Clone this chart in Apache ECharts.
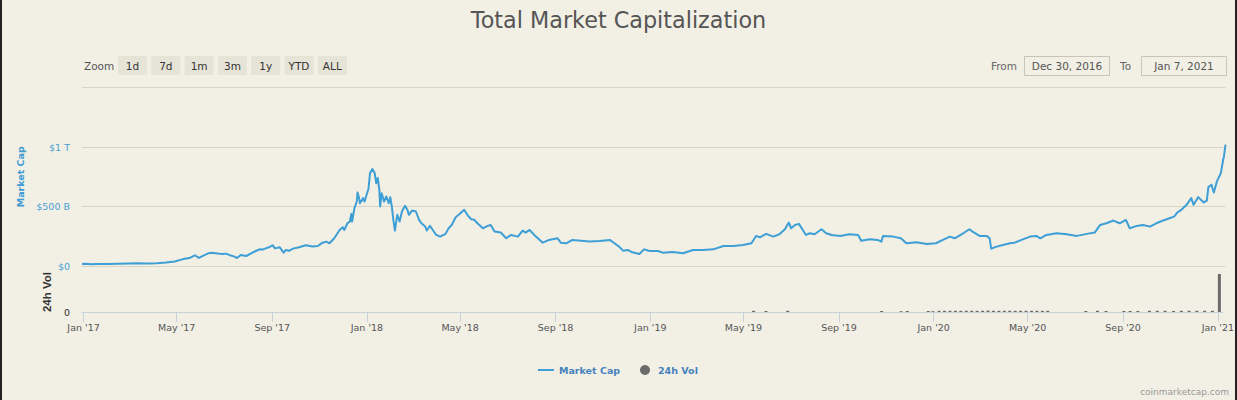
<!DOCTYPE html>
<html>
<head>
<meta charset="utf-8">
<title>Total Market Capitalization</title>
<script src="https://cdn.jsdelivr.net/npm/echarts@6/dist/echarts.min.js"></script>
<style>
    html, body { margin: 0; padding: 0; background: #f2efe5; }
    #chart { width: 1237px; height: 400px; }
</style>
</head>
<body>
<div id="chart"></div>
<script>
// Market cap (billions USD)
const capDates = [
    '2016-12-30', '2017-01-04', '2017-01-11', '2017-01-20', '2017-02-01', '2017-02-15', '2017-03-01', '2017-03-10',
    '2017-03-25', '2017-04-05', '2017-04-17', '2017-04-28', '2017-05-09', '2017-05-17', '2017-05-24', '2017-05-26',
    '2017-05-29', '2017-06-06', '2017-06-11', '2017-06-14', '2017-06-20', '2017-06-25', '2017-06-29', '2017-07-03',
    '2017-07-07', '2017-07-14', '2017-07-17', '2017-07-22', '2017-07-29', '2017-08-06', '2017-08-11', '2017-08-15',
    '2017-08-19', '2017-08-23', '2017-08-28', '2017-09-01', '2017-09-04', '2017-09-10', '2017-09-15', '2017-09-18',
    '2017-09-22', '2017-09-27', '2017-10-05', '2017-10-10', '2017-10-14', '2017-10-22', '2017-10-29', '2017-11-04',
    '2017-11-09', '2017-11-13', '2017-11-19', '2017-11-26', '2017-11-30', '2017-12-02', '2017-12-06', '2017-12-09',
    '2017-12-11', '2017-12-12', '2017-12-15', '2017-12-18', '2017-12-19', '2017-12-21', '2017-12-22', '2017-12-26',
    '2017-12-28', '2017-12-31', '2018-01-02', '2018-01-04', '2018-01-07', '2018-01-10', '2018-01-12', '2018-01-14',
    '2018-01-16', '2018-01-17', '2018-01-19', '2018-01-22', '2018-01-25', '2018-01-28', '2018-01-30', '2018-02-01',
    '2018-02-03', '2018-02-05', '2018-02-08', '2018-02-11', '2018-02-14', '2018-02-18', '2018-02-21', '2018-02-23',
    '2018-02-27', '2018-03-04', '2018-03-08', '2018-03-11', '2018-03-16', '2018-03-18', '2018-03-22', '2018-03-25',
    '2018-03-30', '2018-04-04', '2018-04-11', '2018-04-15', '2018-04-19', '2018-04-24', '2018-04-28', '2018-05-05',
    '2018-05-09', '2018-05-14', '2018-05-18', '2018-05-22', '2018-05-29', '2018-06-04', '2018-06-08', '2018-06-13',
    '2018-06-21', '2018-06-28', '2018-07-04', '2018-07-13', '2018-07-19', '2018-07-23', '2018-07-28', '2018-08-03',
    '2018-08-14', '2018-08-22', '2018-09-02', '2018-09-06', '2018-09-13', '2018-09-21', '2018-10-02', '2018-10-13',
    '2018-10-26', '2018-11-08', '2018-11-14', '2018-11-20', '2018-11-25', '2018-12-01', '2018-12-07', '2018-12-16',
    '2018-12-22', '2018-12-29', '2019-01-09', '2019-01-15', '2019-01-28', '2019-02-10', '2019-02-23', '2019-03-08',
    '2019-03-21', '2019-04-03', '2019-04-16', '2019-04-28', '2019-05-09', '2019-05-15', '2019-05-20', '2019-05-28',
    '2019-06-06', '2019-06-14', '2019-06-21', '2019-06-26', '2019-06-29', '2019-07-04', '2019-07-09', '2019-07-14',
    '2019-07-18', '2019-07-23', '2019-07-29', '2019-08-07', '2019-08-13', '2019-08-20', '2019-08-31', '2019-09-12',
    '2019-09-23', '2019-09-27', '2019-10-08', '2019-10-18', '2019-10-23', '2019-10-25', '2019-11-07', '2019-11-17',
    '2019-11-24', '2019-12-07', '2019-12-20', '2020-01-01', '2020-01-10', '2020-01-19', '2020-01-25', '2020-02-05',
    '2020-02-13', '2020-02-17', '2020-02-26', '2020-03-06', '2020-03-10', '2020-03-12', '2020-03-19', '2020-03-27',
    '2020-04-05', '2020-04-11', '2020-04-20', '2020-05-01', '2020-05-09', '2020-05-14', '2020-05-22', '2020-06-04',
    '2020-06-17', '2020-06-30', '2020-07-13', '2020-07-23', '2020-07-30', '2020-08-07', '2020-08-16', '2020-08-24',
    '2020-09-01', '2020-09-06', '2020-09-15', '2020-09-23', '2020-10-02', '2020-10-10', '2020-10-19', '2020-10-27',
    '2020-11-02', '2020-11-06', '2020-11-11', '2020-11-18', '2020-11-24', '2020-11-27', '2020-12-03', '2020-12-10',
    '2020-12-14', '2020-12-16', '2020-12-20', '2020-12-23', '2020-12-27', '2021-01-01', '2021-01-04', '2021-01-05',
    '2021-01-07'
];
const capValues = [
    17, 19, 15, 16, 17, 18, 21, 23,
    22, 24, 29, 38, 58, 67, 90, 82,
    68, 93, 108, 112, 107, 102, 101, 104,
    93, 79, 67, 93, 84, 112, 128, 140,
    138, 148, 160, 174, 148, 157, 112, 135,
    128, 146, 157, 168, 174, 163, 168, 196,
    205, 191, 233, 303, 326, 303, 359, 373,
    438, 373, 486, 542, 618, 570, 528, 570,
    542, 607, 647, 781, 814, 781, 696, 739,
    640, 500, 612, 542, 584, 528, 578, 500,
    388, 298, 430, 374, 458, 506, 472, 430,
    466, 458, 388, 359, 331, 298, 337, 309,
    261, 247, 270, 317, 345, 410, 430, 472,
    430, 393, 388, 359, 317, 337, 345, 289,
    281, 233, 261, 247, 298, 281, 303, 261,
    196, 219, 233, 196, 191, 219, 213, 205,
    210, 219, 191, 163, 129, 135, 115, 101,
    140, 126, 126, 112, 118, 107, 135, 135,
    140, 168, 168, 177, 191, 252, 241, 270,
    247, 267, 309, 365, 317, 345, 354, 303,
    261, 275, 267, 309, 275, 261, 252, 267,
    261, 213, 225, 219, 205, 253, 247, 233,
    191, 199, 185, 191, 219, 247, 233, 275,
    309, 289, 253, 253, 233, 146, 163, 177,
    191, 196, 219, 247, 253, 233, 261, 275,
    267, 253, 270, 281, 345, 359, 382, 359,
    387, 317, 337, 345, 331, 359, 382, 401,
    415, 449, 471, 514, 570, 514, 579, 534,
    550, 663, 683, 618, 711, 781, 893, 921,
    1019
];

const volDates = [
    '2019-05-14', '2019-05-30', '2019-06-27', '2019-10-26', '2019-11-20', '2019-11-28', '2019-12-25', '2019-12-31',
    '2020-01-08', '2020-01-15', '2020-01-22', '2020-01-29', '2020-02-05', '2020-02-12', '2020-02-19', '2020-02-26',
    '2020-03-04', '2020-03-11', '2020-03-18', '2020-03-25', '2020-04-01', '2020-04-08', '2020-04-15', '2020-04-22',
    '2020-04-29', '2020-05-06', '2020-05-13', '2020-05-20', '2020-05-27', '2020-07-15', '2020-07-30', '2020-08-10',
    '2020-09-02', '2020-09-10', '2020-09-20', '2020-10-05', '2020-10-15', '2020-10-25', '2020-11-05', '2020-11-15',
    '2020-11-25', '2020-12-05', '2020-12-15', '2020-12-25', '2021-01-03'
];
const volValues = [
    12, 10, 12, 10, 8, 10, 10, 8,
    12, 12, 12, 12, 12, 12, 12, 12,
    12, 14, 12, 12, 12, 12, 12, 12,
    12, 12, 12, 12, 12, 10, 12, 10,
    10, 10, 10, 12, 12, 12, 10, 12,
    12, 12, 12, 12, 380
];

// x-axis ticks
const tickDates = [
    '2017-01-01', '2017-05-01', '2017-09-01', '2018-01-01', '2018-05-01', '2018-09-01', '2019-01-01',
    '2019-05-01', '2019-09-01', '2020-01-01', '2020-05-01', '2020-09-01', '2021-01-01'
];
const tickLabels = [
    "Jan '17", "May '17", "Sep '17", "Jan '18", "May '18", "Sep '18", "Jan '19",
    "May '19", "Sep '19", "Jan '20", "May '20", "Sep '20", "Jan '21"
];

const zoomButtons = ['1d', '7d', '1m', '3m', '1y', 'YTD', 'ALL'];
const rangeFrom = 'Dec 30, 2016';
const rangeTo = 'Jan 7, 2021';

function toTime(s) {
    const p = s.split('-').map(Number);
    return new Date(p[0], p[1] - 1, p[2]).getTime();
}
const tickTimes = tickDates.map(toTime);
const xMin = toTime('2016-12-30');
const xMax = toTime('2021-01-07');

const FONT = 'DejaVu Sans';
const BG = '#f2efe5';
const LINE = '#3d9fd6';
const LEGEND_TEXT = { color: '#4682bd', fontWeight: 'bold', fontSize: 9.5, fontFamily: FONT };

const chart = echarts.init(document.getElementById('chart'), null, { renderer: 'svg' });

// Range selector and decorations
const graphics = [];
graphics.push({
    type: 'text', x: 84, y: 65.5,
    style: { text: 'Zoom', fontFamily: FONT, fontSize: 10.5, fill: '#555', verticalAlign: 'middle' }
});
zoomButtons.forEach((label, i) => {
    const x = 118 + i * 33.3;
    graphics.push({
        type: 'rect', shape: { x: x, y: 56, width: 29, height: 19 },
        style: { fill: '#e6e3d7' }
    });
    graphics.push({
        type: 'text', x: x + 14.5, y: 65.5,
        style: { text: label, fontFamily: FONT, fontSize: 10.5, fill: '#333', align: 'center', verticalAlign: 'middle' }
    });
});
graphics.push({
    type: 'text', x: 991, y: 65.5,
    style: { text: 'From', fontFamily: FONT, fontSize: 10.5, fill: '#666', verticalAlign: 'middle' }
});
graphics.push({
    type: 'rect', shape: { x: 1024.5, y: 56.5, width: 85, height: 19 },
    style: { fill: 'none', stroke: '#c8c4b7', lineWidth: 1 }
});
graphics.push({
    type: 'text', x: 1067, y: 66,
    style: { text: rangeFrom, fontFamily: FONT, fontSize: 10.5, fill: '#555', align: 'center', verticalAlign: 'middle' }
});
graphics.push({
    type: 'text', x: 1120, y: 65.5,
    style: { text: 'To', fontFamily: FONT, fontSize: 10.5, fill: '#666', verticalAlign: 'middle' }
});
graphics.push({
    type: 'rect', shape: { x: 1141.5, y: 56.5, width: 85, height: 19 },
    style: { fill: 'none', stroke: '#c8c4b7', lineWidth: 1 }
});
graphics.push({
    type: 'text', x: 1184, y: 66,
    style: { text: rangeTo, fontFamily: FONT, fontSize: 10.5, fill: '#555', align: 'center', verticalAlign: 'middle' }
});
graphics.push({
    type: 'text', x: 1229, y: 392,
    style: { text: 'coinmarketcap.com', fontFamily: FONT, fontSize: 9, fill: '#999', align: 'right', verticalAlign: 'middle' }
});
graphics.push({ type: 'rect', shape: { x: 0, y: 0, width: 2, height: 400 }, style: { fill: '#222' } });
graphics.push({ type: 'rect', shape: { x: 1235, y: 0, width: 2, height: 400 }, style: { fill: '#222' } });

const option = {
    backgroundColor: BG,
    animation: false,
    textStyle: { fontFamily: FONT },
    title: {
        text: 'Total Market Capitalization',
        left: 'center',
        top: 4,
        textStyle: { fontFamily: FONT, fontSize: 22.3, fontWeight: 'normal', color: '#555' }
    },
    legend: [
        {
            left: 533, top: 360,
            icon: 'rect', itemWidth: 16, itemHeight: 2,
            selectedMode: false,
            data: ['Market Cap'],
            textStyle: LEGEND_TEXT
        },
        {
            left: 635, top: 360,
            icon: 'circle', itemWidth: 16, itemHeight: 10,
            selectedMode: false,
            data: ['24h Vol'],
            textStyle: LEGEND_TEXT
        }
    ],
    graphic: graphics,
    grid: [
        { left: 82, right: 11.5, top: 87.5, height: 178.5 },
        { left: 82, right: 11.5, top: 272, height: 40 }
    ],
    xAxis: [
        {
            type: 'value', gridIndex: 0,
            min: xMin, max: xMax,
            show: false
        },
        {
            type: 'value', gridIndex: 1,
            min: xMin, max: xMax,
            axisLine: { lineStyle: { color: '#c9d2dc', width: 1 } },
            axisTick: { show: true, length: 10, customValues: tickTimes, lineStyle: { color: '#c9d2dc' } },
            axisLabel: {
                customValues: tickTimes,
                margin: 10,
                color: '#555',
                fontSize: 9.5,
                fontFamily: FONT,
                formatter: function (value) {
                    const i = tickTimes.indexOf(value);
                    return i >= 0 ? tickLabels[i] : '';
                }
            },
            splitLine: { show: false }
        }
    ],
    yAxis: [
        {
            type: 'value', gridIndex: 0,
            min: 0, max: 1500, interval: 500,
            name: 'Market Cap',
            nameLocation: 'middle',
            nameGap: 57,
            nameTextStyle: { color: '#3d9ad3', fontSize: 9.5, fontWeight: 'bold', fontFamily: FONT },
            axisLine: { show: false },
            axisTick: { show: false },
            axisLabel: {
                margin: 12,
                color: '#4a9fd6',
                fontSize: 9.5,
                fontFamily: FONT,
                formatter: function (v) {
                    if (v === 0) return '$0';
                    if (v === 500) return '$500 B';
                    if (v === 1000) return '$1 T';
                    return '';
                }
            },
            splitLine: { lineStyle: { color: '#d8d4c8', width: 1 } }
        },
        {
            type: 'value', gridIndex: 1,
            min: 0, max: 400, interval: 400,
            name: '24h Vol',
            nameLocation: 'middle',
            nameGap: 29,
            nameTextStyle: { color: '#333', fontSize: 11.5, fontWeight: 'bold', fontFamily: 'Liberation Sans' },
            axisLine: { show: false },
            axisTick: { show: false },
            axisLabel: {
                margin: 12,
                color: '#333',
                fontSize: 9.5,
                fontFamily: FONT,
                formatter: function (v) { return v === 0 ? '0' : ''; }
            },
            splitLine: { show: false }
        }
    ],
    series: [
        {
            name: 'Market Cap',
            type: 'line',
            xAxisIndex: 0, yAxisIndex: 0,
            symbol: 'none',
            showSymbol: false,
            lineStyle: { color: LINE, width: 2, join: 'round' },
            itemStyle: { color: LINE },
            data: capDates.map((d, i) => [toTime(d), capValues[i]])
        },
        {
            name: '24h Vol',
            type: 'bar',
            xAxisIndex: 1, yAxisIndex: 1,
            barWidth: 3,
            itemStyle: { color: '#6a6a6a' },
            data: volDates.map((d, i) => [toTime(d), volValues[i]])
        }
    ]
};

chart.setOption(option);
</script>
</body>
</html>
